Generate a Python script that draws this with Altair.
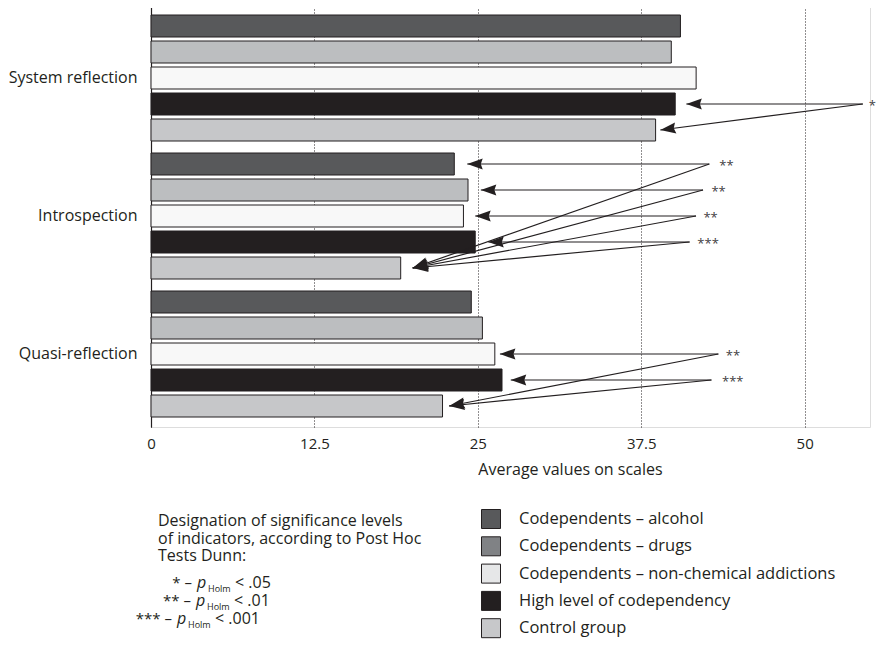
import math
import altair as alt
import pandas as pd

# ---------------- data ----------------
groups = ["System reflection", "Introspection", "Quasi-reflection"]
series = [
    "Codependents – alcohol",
    "Codependents – drugs",
    "Codependents – non-chemical addictions",
    "High level of codependency",
    "Control group",
]
system_vals = [40.5, 39.8, 41.7, 40.1, 38.6]
intro_vals = [23.2, 24.25, 23.9, 24.8, 19.1]
quasi_vals = [24.5, 25.35, 26.3, 26.85, 22.3]

bar_colors = ["#58595b", "#bcbec0", "#f8f8f8", "#231f20", "#c6c7c9"]
legend_colors = ["#58595b", "#808285", "#e6e7e8", "#231f20", "#c7c8ca"]

# arrows: group, tail row (series index), tail x, tip row, tip x
arrow_groups = ["System reflection", "System reflection",
                "Introspection", "Introspection", "Introspection", "Introspection",
                "Introspection", "Introspection", "Introspection", "Introspection",
                "Quasi-reflection", "Quasi-reflection", "Quasi-reflection", "Quasi-reflection"]
arrow_tail_rows = [3, 3, 0, 0, 1, 1, 2, 2, 3, 3, 2, 2, 3, 3]
arrow_tail_x = [54.45, 54.45, 42.71, 42.71, 42.23, 42.23, 41.69, 41.69, 41.2, 41.2,
                43.4, 43.4, 42.87, 42.87]
arrow_tip_rows = [3, 4, 0, 4, 1, 4, 2, 4, 3, 4, 2, 4, 3, 4]
arrow_tip_x = [40.95, 38.96, 24.19, 20.02, 25.23, 20.02, 24.8, 20.02, 25.8, 20.02,
               26.69, 22.81, 27.52, 22.81]

# significance marks
sig_groups = ["System reflection", "Introspection", "Introspection", "Introspection",
              "Introspection", "Quasi-reflection", "Quasi-reflection"]
sig_rows = [3, 0, 1, 2, 3, 2, 3]
sig_x = [54.9, 43.47, 42.87, 42.26, 41.79, 43.97, 43.68]
sig_text = ["*", "**", "**", "**", "***", "**", "***"]

x_ticks = [0, 12.5, 25, 37.5, 50]

note_lines = ["Designation of significance levels",
              "of indicators, according to Post Hoc",
              "Tests Dunn:"]
note_stars = ["* –", "** –", "*** –"]
note_limits = ["< .05", "< .01", "< .001"]

# ---------------- layout constants ----------------
FONT = "Open Sans"
INK = "#231f20"
W = 719
H = 422
X_MAX = 55
PX_PER_UNIT = W / X_MAX
ROW_STEP = 26

# ---------------- tables ----------------
rows = []
for g, vals in zip(groups, [system_vals, intro_vals, quasi_vals]):
    for s, v in zip(series, vals):
        rows.append({"group": g, "series": s, "value": v})
bars_df = pd.DataFrame(rows)

line_rows, head_rows = [], []
for i in range(len(arrow_groups)):
    g = arrow_groups[i]
    line_rows.append({"id": i, "ord": 0, "group": g, "series": series[arrow_tail_rows[i]],
                      "x": arrow_tail_x[i]})
    line_rows.append({"id": i, "ord": 1, "group": g, "series": series[arrow_tip_rows[i]],
                      "x": arrow_tip_x[i]})
    dx = (arrow_tip_x[i] - arrow_tail_x[i]) * PX_PER_UNIT
    dy = (arrow_tip_rows[i] - arrow_tail_rows[i]) * ROW_STEP
    theta = math.degrees(math.atan2(dy, dx))
    head_rows.append({"group": g, "series": series[arrow_tip_rows[i]], "x": arrow_tip_x[i],
                      "angle": (theta - 180) % 360})
lines_df = pd.DataFrame(line_rows)
heads_df = pd.DataFrame(head_rows)

sig_df = pd.DataFrame({"group": sig_groups, "series": [series[r] for r in sig_rows],
                       "x": sig_x, "t": sig_text})

# ---------------- encodings ----------------
x_scale = alt.Scale(domain=[0, X_MAX], nice=False, zero=True)
y_enc = alt.Y("group:N", sort=groups,
              scale=alt.Scale(domain=groups, paddingInner=12 / 138, paddingOuter=10 / 138),
              axis=alt.Axis(title=None, ticks=False, domain=True, domainColor=INK,
                            domainWidth=1.2, labelFontSize=16, labelPadding=14,
                            labelColor=INK, labelFont=FONT))
yoff_enc = alt.YOffset("series:N", sort=series,
                       scale=alt.Scale(domain=series, paddingInner=4 / 26, paddingOuter=0))

bars = alt.Chart(bars_df).mark_bar(stroke=INK, strokeWidth=1).encode(
    x=alt.X("value:Q", scale=x_scale,
            axis=alt.Axis(values=x_ticks, labelExpr="datum.value + ''", grid=True,
                          gridDash=[1, 2], gridColor=INK, gridWidth=1, domain=False,
                          ticks=False, labelFlush=False, labelFontSize=15, labelPadding=9,
                          labelColor=INK, labelFont=FONT,
                          title="Average values on scales", titleFont=FONT,
                          titleFontSize=16, titleFontWeight="normal", titleColor=INK,
                          titleX=419, titleY=42, titleBaseline="middle")),
    y=y_enc,
    yOffset=yoff_enc,
    color=alt.Color("series:N", scale=alt.Scale(domain=series, range=bar_colors), legend=None),
)

arrow_lines = alt.Chart(lines_df).mark_line(color=INK, strokeWidth=1.2).encode(
    x=alt.X("x:Q", scale=x_scale),
    y=alt.Y("group:N", sort=groups),
    yOffset=alt.YOffset("series:N", sort=series),
    detail="id:N",
    order="ord:Q",
)

arrow_heads = alt.Chart(heads_df).mark_point(
    shape="M0,0L2,-0.72L1.75,0L2,0.72Z", filled=True, color=INK, opacity=1, size=240,
    strokeWidth=0,
).encode(
    x=alt.X("x:Q", scale=x_scale),
    y=alt.Y("group:N", sort=groups),
    yOffset=alt.YOffset("series:N", sort=series),
    angle=alt.Angle("angle:Q", scale=None),
)

sig_marks = alt.Chart(sig_df).mark_text(
    align="left", baseline="middle", dy=2, fontSize=13, color="#414042", font=FONT
).encode(
    x=alt.X("x:Q", scale=x_scale),
    y=alt.Y("group:N", sort=groups),
    yOffset=alt.YOffset("series:N", sort=series),
    text="t:N",
)

legend_layer = alt.Chart(bars_df).transform_filter("false").mark_bar(
    stroke=INK, strokeWidth=1, opacity=1
).encode(
    color=alt.Color("series:N", scale=alt.Scale(domain=series, range=legend_colors),
                    legend=alt.Legend(title=None, orient="none", legendX=330, legendY=504,
                                      symbolType="square", symbolSize=361,
                                      symbolStrokeColor=INK, symbolStrokeWidth=1,
                                      labelFontSize=16.5, labelFont=FONT, labelColor=INK,
                                      labelOffset=18, rowPadding=3.3, padding=0,
                                      labelLimit=500)),
)

notes = []
for i, line in enumerate(note_lines):
    notes.append(alt.Chart(pd.DataFrame({"t": [line]})).mark_text(
        align="left", baseline="middle", fontSize=16, font=FONT, color=INK
    ).encode(x=alt.value(7), y=alt.value(516 + 17.5 * i), text="t:N"))

star_right = [41, 40, 21]
p_left = [46, 45, 26]
holm_left = [57, 56, 37]
lim_left = [84, 83, 64]
row_y = [577.7, 595.7, 614.3]
for i in range(3):
    yy = row_y[i]
    notes.append(alt.Chart(pd.DataFrame({"t": [note_stars[i]]})).mark_text(
        align="right", baseline="middle", fontSize=15, font=FONT, color=INK
    ).encode(x=alt.value(star_right[i]), y=alt.value(yy), text="t:N"))
    notes.append(alt.Chart(pd.DataFrame({"t": ["p"]})).mark_text(
        align="left", baseline="middle", fontSize=16, font=FONT, fontStyle="italic", color=INK
    ).encode(x=alt.value(p_left[i]), y=alt.value(yy), text="t:N"))
    notes.append(alt.Chart(pd.DataFrame({"t": ["Holm"]})).mark_text(
        align="left", baseline="middle", fontSize=9, font=FONT, color=INK
    ).encode(x=alt.value(holm_left[i]), y=alt.value(yy + 6), text="t:N"))
    notes.append(alt.Chart(pd.DataFrame({"t": [note_limits[i]]})).mark_text(
        align="left", baseline="middle", fontSize=16, font=FONT, color=INK
    ).encode(x=alt.value(lim_left[i]), y=alt.value(yy), text="t:N"))

chart = alt.layer(bars, arrow_lines, arrow_heads, sig_marks, legend_layer, *notes).resolve_scale(
    color="independent"
).properties(
    width=W, height=H,
    autosize=alt.AutoSizeParams(type="none"),
    padding={"left": 143, "top": -3, "right": 7, "bottom": 213},
).configure_view(strokeWidth=0).configure(background="white")

chart.save("out.html", embed_options={"renderer": "svg", "actions": False})
